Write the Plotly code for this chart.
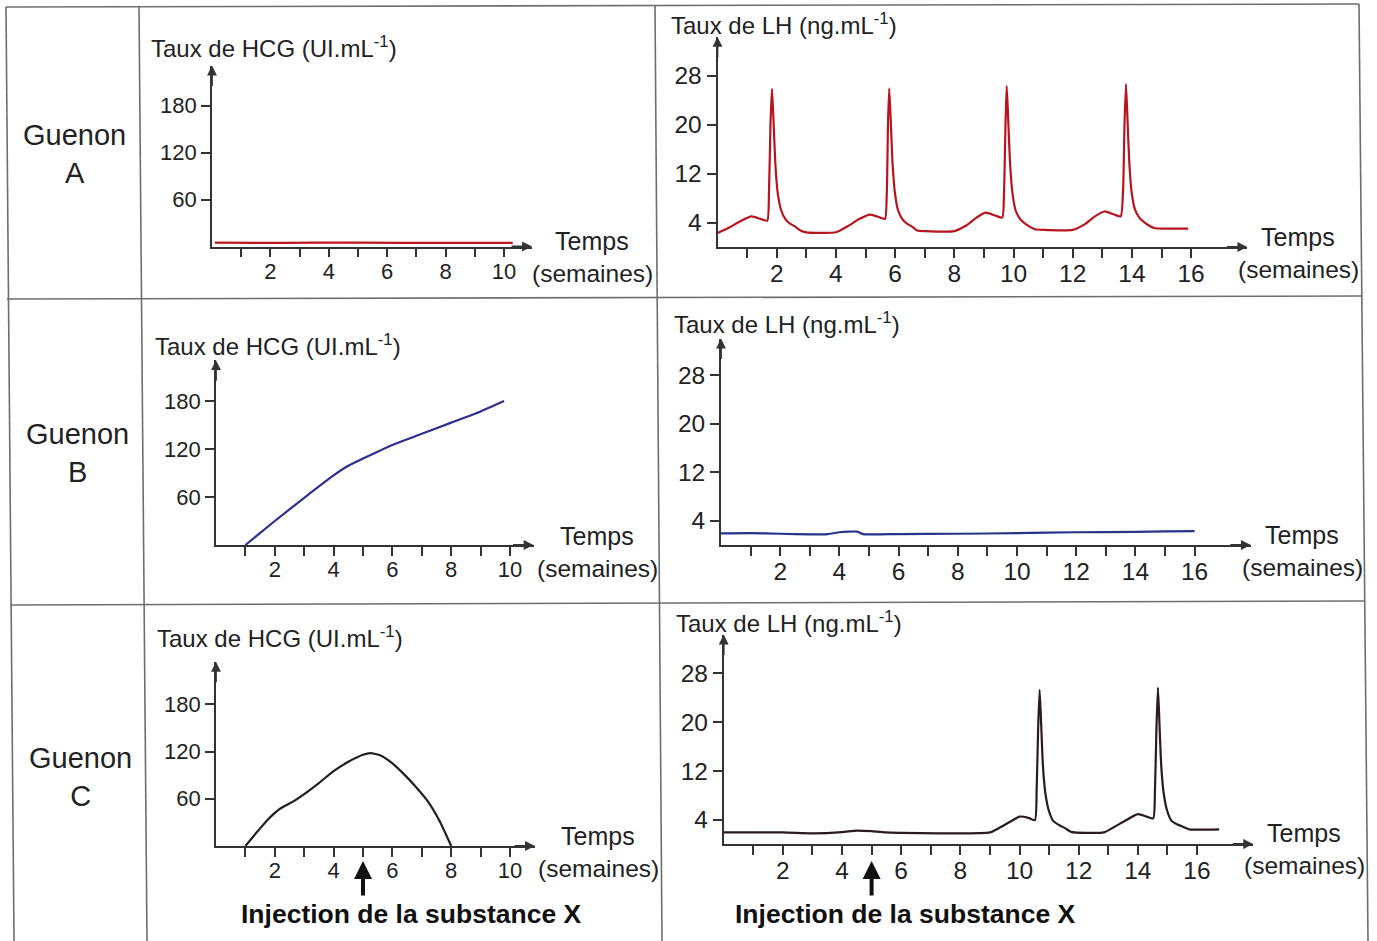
import plotly.graph_objects as go

W, H = 1377, 941

# ---------------- data ----------------
weeks_hcg_ticks = list(range(1, 11))
weeks_lh_ticks = list(range(1, 17))
hcg_ticks = [60, 120, 180]
lh_ticks = [4, 12, 20, 28]

# Guenon A
hcgA_t = [0.1, 1.5, 3.5, 5.0, 8.0, 10.3]
hcgA_v = [5, 4.5, 5, 5, 4.5, 4.5]
lhA_t = [0.0, 0.4, 0.8, 1.15, 1.45, 1.68, 1.74, 1.79, 1.84, 1.89, 1.95, 2.03, 2.15, 2.3, 2.45, 2.6, 2.8, 3.0,
         4.0, 4.4, 4.8, 5.15, 5.5, 5.66, 5.72, 5.76, 5.80, 5.85, 5.91, 5.99, 6.1, 6.25, 6.4, 6.55, 6.75, 7.0,
         8.0, 8.4, 8.75, 9.05, 9.4, 9.62, 9.68, 9.73, 9.77, 9.82, 9.88, 9.96, 10.07, 10.22, 10.37, 10.52, 10.72, 11.0,
         12.0, 12.4, 12.75, 13.07, 13.4, 13.62, 13.70, 13.75, 13.80, 13.85, 13.91, 13.99, 14.1, 14.25, 14.4, 14.55, 14.75, 15.0, 15.9]
lhA_v = [2.3, 3.2, 4.3, 5.0, 4.6, 4.3, 9, 20, 25.8, 21, 14, 9, 6, 4.5, 3.8, 3.4, 2.7, 2.4,
         2.4, 3.4, 4.6, 5.3, 4.8, 4.6, 9, 20, 25.9, 21, 14, 9, 6, 4.5, 3.8, 3.4, 2.7, 2.6,
         2.6, 3.5, 4.8, 5.6, 5.1, 4.8, 9, 20, 26.3, 21, 14, 9, 6, 4.6, 3.9, 3.4, 2.9, 2.8,
         2.8, 3.7, 5.0, 5.8, 5.3, 5.0, 9, 20, 26.6, 21, 14, 9, 6.2, 4.8, 4.1, 3.6, 3.1, 3.0, 3.0]

# Guenon B
hcgB_t = [1, 2, 3, 4, 4.5, 5, 6, 7, 8, 9, 9.8]
hcgB_v = [0, 30, 59, 87, 99, 108, 125, 139, 153, 167, 180]
lhB_t = [0, 1, 2, 3, 3.6, 4.0, 4.3, 4.6, 4.8, 6, 8, 10, 12, 14, 15, 16]
lhB_v = [1.9, 1.95, 1.85, 1.75, 1.8, 2.1, 2.2, 2.2, 1.8, 1.8, 1.85, 1.95, 2.1, 2.15, 2.25, 2.3]

# Guenon C
hcgC_t = [1, 1.4, 1.8, 2.2, 2.6, 3.0, 3.5, 4.0, 4.5, 5.0, 5.25, 5.6, 6.0, 6.4, 6.8, 7.2, 7.6, 8.0]
hcgC_v = [0, 18, 35, 48, 56, 66, 80, 95, 107, 116, 118, 115, 105, 91, 75, 57, 32, 0]
lhC_t = [0, 2, 3, 4, 4.5, 5, 5.5, 9.0, 9.3, 9.7, 10.0, 10.3, 10.52, 10.58, 10.63, 10.68, 10.73, 10.79, 10.87,
         10.99, 11.14, 11.34, 11.54, 11.74, 12.85, 13.2, 13.6, 14.0, 14.3, 14.52, 14.58, 14.63, 14.68, 14.73,
         14.79, 14.87, 14.99, 15.14, 15.34, 15.54, 15.74, 16.75]
lhC_v = [1.9, 1.9, 1.75, 1.95, 2.2, 2.1, 1.9, 1.9, 2.6, 3.7, 4.5, 4.3, 3.9, 9, 19, 25.3, 20, 13, 8.5,
         5.5, 3.8, 3.1, 2.6, 2.0, 1.9, 2.8, 3.9, 4.9, 4.5, 4.2, 9, 19, 25.7, 20,
         13, 8.5, 5.5, 3.8, 3.2, 2.8, 2.4, 2.4]

injection_week = 5
hcg_title = "Taux de HCG (UI.mL<sup>-1</sup>)"
lh_title = "Taux de LH (ng.mL<sup>-1</sup>)"
rows = ["Guenon<br>A", "Guenon<br>B", "Guenon<br>C"]
injection_text = "Injection de la substance X"

# ---------------- layout geometry (pixels) ----------------
FONT = "Liberation Sans, Arial, sans-serif"
AX = "#333333"
panels = [
    dict(t=hcgA_t, v=hcgA_v, c="#c0161d", ox=212, ux=29.2, oy=246.5, uy=47/60, xmax=10.96, ymax=231,
         kind="hcg", tpos=(149, 47), temps=(592, 241)),
    dict(t=lhA_t, v=lhA_v, c="#b8141e", ox=717.5, ux=29.6, oy=247, uy=6.125, xmax=17.9, ymax=34.3,
         kind="lh", tpos=(669, 24), temps=(1298, 237)),
    dict(t=hcgB_t, v=hcgB_v, c="#2c2f8f", ox=216, ux=29.4, oy=545, uy=0.8, xmax=10.8, ymax=231,
         kind="hcg", tpos=(153, 345), temps=(597, 536)),
    dict(t=lhB_t, v=lhB_v, c="#26348a", ox=721, ux=29.6, oy=545, uy=6.07, xmax=17.9, ymax=34,
         kind="lh", tpos=(672, 323), temps=(1302, 535)),
    dict(t=hcgC_t, v=hcgC_v, c="#231f20", ox=216, ux=29.4, oy=846, uy=0.787, xmax=10.85, ymax=234,
         kind="hcg", tpos=(155, 637), temps=(598, 836)),
    dict(t=lhC_t, v=lhC_v, c="#2a1a22", ox=723.7, ux=29.58, oy=844, uy=6.09, xmax=17.9, ymax=34.4,
         kind="lh", tpos=(674, 622), temps=(1304, 833)),
]


def px(x):
    return x / W


def py(y):
    return 1 - y / H


fig = go.Figure()
annotations = []
shapes = []
layout = {}

for i, p in enumerate(panels):
    n = i + 1
    xa = "xaxis" if n == 1 else f"xaxis{n}"
    ya = "yaxis" if n == 1 else f"yaxis{n}"
    xr = "x" if n == 1 else f"x{n}"
    yr = "y" if n == 1 else f"y{n}"
    fig.add_trace(go.Scatter(x=p["t"], y=p["v"], mode="lines", xaxis=xr, yaxis=yr,
                             line=dict(color=p["c"], width=2.2, shape="spline", smoothing=0.55),
                             showlegend=False, hoverinfo="skip", cliponaxis=False))
    xd = [px(p["ox"]), px(p["ox"] + p["xmax"] * p["ux"])]
    yd = [py(p["oy"]), py(p["oy"] - p["ymax"] * p["uy"])]
    if p["kind"] == "hcg":
        xt, yt, title = weeks_hcg_ticks, hcg_ticks, hcg_title
        tfs, ttl = 22, 24
    else:
        xt, yt, title = weeks_lh_ticks, lh_ticks, lh_title
        tfs, ttl = 24.5, 24
    layout[xa] = dict(domain=xd, range=[0, p["xmax"]], anchor=yr, showgrid=False, zeroline=False,
                      showline=True, linecolor=AX, linewidth=1.8, ticks="outside", ticklen=9,
                      tickwidth=1.6, tickcolor=AX, tickvals=xt,
                      ticktext=[str(v) if v % 2 == 0 else "" for v in xt],
                      tickfont=dict(family=FONT, size=tfs, color="#222"), ticklabelstandoff=-5,
                      fixedrange=True)
    layout[ya] = dict(domain=yd, range=[0, p["ymax"]], anchor=xr, showgrid=False, zeroline=False,
                      showline=True, linecolor=AX, linewidth=1.8, ticks="outside", ticklen=9,
                      tickwidth=1.6, tickcolor=AX, tickvals=yt, ticktext=[str(v) for v in yt],
                      tickfont=dict(family=FONT, size=tfs, color="#222"), fixedrange=True)
    # axis arrowheads
    annotations.append(dict(x=p["xmax"], y=0, xref=xr, yref=yr, ax=-22, ay=0, axref="pixel",
                            ayref="pixel", showarrow=True, arrowhead=2, arrowsize=1.1, arrowwidth=1.8,
                            arrowcolor=AX, text="", standoff=0))
    annotations.append(dict(x=0, y=p["ymax"], xref=xr, yref=yr, ax=0, ay=22, showarrow=True,
                            arrowhead=2, arrowsize=1.1, arrowwidth=1.8, arrowcolor=AX, text="",
                            standoff=0))
    # titles
    annotations.append(dict(x=px(p["tpos"][0]), y=py(p["tpos"][1]), xref="paper", yref="paper",
                            xanchor="left", yanchor="middle", showarrow=False, text=title,
                            font=dict(family=FONT, size=ttl, color="#222")))
    annotations.append(dict(x=px(p["temps"][0]), y=py(p["temps"][1]), xref="paper", yref="paper",
                            xanchor="center", yanchor="middle", showarrow=False, text="Temps",
                            font=dict(family=FONT, size=25, color="#222")))
    annotations.append(dict(x=px(p["temps"][0]), y=py(p["temps"][1] + 32), xref="paper", yref="paper",
                            xanchor="center", yanchor="middle", showarrow=False, text="(semaines)",
                            font=dict(family=FONT, size=24.5, color="#222")))

# injection arrows (panels 5 and 6)
for n, tx in [(5, 411), (6, 906)]:
    annotations.append(dict(x=injection_week, y=py(861), xref=f"x{n}", yref="paper", ax=0, ay=36,
                            showarrow=True, arrowhead=2, arrowsize=0.9, arrowwidth=4,
                            arrowcolor="#111", text="", standoff=0))
    annotations.append(dict(x=px(tx), y=py(914), xref="paper", yref="paper", xanchor="center",
                            yanchor="middle", showarrow=False, text=f"<b>{injection_text}</b>",
                            font=dict(family=FONT, size=26.5, color="#111")))

# row labels
for txt, (cx, cy) in zip(rows, [(74, 154), (77, 453), (80, 777)]):
    annotations.append(dict(x=px(cx), y=py(cy), xref="paper", yref="paper", xanchor="center",
                            yanchor="middle", showarrow=False, text=txt,
                            font=dict(family=FONT, size=29, color="#222")))

# table grid lines
grid = [((6, 7), (1359, 4)), ((6, 7), (14, 941)), ((1359, 4), (1368, 941)),
        ((139, 7), (147, 941)), ((655, 6), (662, 941)),
        ((7, 299), (1362, 296)), ((10, 605), (1365, 601))]
for (x0, y0), (x1, y1) in grid:
    shapes.append(dict(type="line", xref="paper", yref="paper", x0=px(x0), y0=py(y0), x1=px(x1),
                       y1=py(y1), line=dict(color="#6e6e6e", width=1.6)))

fig.update_layout(width=W, height=H, margin=dict(l=0, r=0, t=0, b=0), paper_bgcolor="white",
                  plot_bgcolor="rgba(0,0,0,0)", annotations=annotations, shapes=shapes,
                  showlegend=False, **layout)
fig.write_html("out.html", config={"displayModeBar": False},
               post_script="document.body.style.margin='0';document.body.style.overflow='hidden';")
